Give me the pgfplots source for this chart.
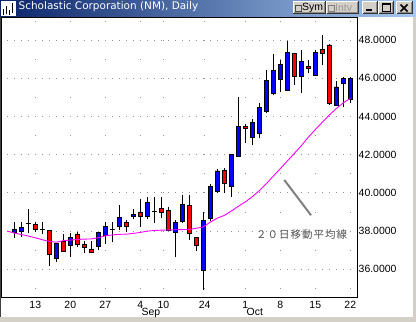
\documentclass[border=0pt]{standalone}
\usepackage{pgfplots}
\pgfplotsset{compat=1.18}
\usepackage{pgfplotstable}
\usepackage{fontspec}
\setmainfont{Liberation Sans}
\newfontfamily\titlefont{DejaVu Sans}
\newfontfamily\cjk[LetterSpace=10]{Noto Sans CJK JP}
\definecolor{wingray}{RGB}{212,208,200}
\definecolor{tbdark}{RGB}{10,36,106}
\definecolor{tblight}{RGB}{166,202,240}
\definecolor{cblue}{RGB}{0,0,255}
\definecolor{cred}{RGB}{255,0,0}
\definecolor{macol}{RGB}{255,0,255}
\definecolor{gridc}{RGB}{150,150,150}
\definecolor{annot}{RGB}{80,80,80}

\pgfplotstableread{
i O H L C
0 37.95 38.46 37.65 38.09
1 37.97 38.48 37.71 38.21
2 38.39 39.14 37.88 38.39
3 38.37 38.48 37.97 38.09
4 38.09 38.48 37.83 38.09
5 38.01 38.06 36.19 36.77
6 36.56 37.36 36.40 37.33
7 37.46 37.85 36.90 36.92
8 37.24 37.90 36.66 37.67
9 37.85 37.97 37.19 37.31
10 37.31 37.48 36.84 37.13
11 37.06 37.48 36.89 36.89
12 37.20 37.97 37.01 37.94
13 37.78 38.46 37.31 38.25
14 38.08 38.48 37.41 38.08
15 38.25 39.37 38.08 38.72
16 38.46 38.58 37.97 38.25
17 38.77 39.16 38.62 38.89
18 38.98 39.68 38.23 38.77
19 38.79 39.77 38.62 39.51
20 39.02 39.77 38.41 39.02
21 39.19 39.77 38.67 38.98
22 39.09 39.25 38.00 38.04
23 37.94 38.58 36.66 38.47
24 38.50 39.88 38.45 39.40
25 39.36 39.88 37.55 37.88
26 37.67 37.67 36.97 37.25
27 35.94 39.01 34.92 38.57
28 38.67 40.47 38.55 40.33
29 40.07 41.24 40.00 41.15
30 41.20 41.29 39.98 40.50
31 40.33 41.99 39.80 41.99
32 41.93 45.04 41.86 43.50
33 43.47 43.61 42.63 43.37
34 42.91 43.86 42.51 43.71
35 43.12 44.69 42.86 44.48
36 44.29 46.44 44.21 45.89
37 45.19 47.28 45.13 46.43
38 45.93 46.97 45.30 46.75
39 45.36 47.98 45.36 47.36
40 47.29 47.29 45.67 46.09
41 46.09 47.49 45.22 46.89
42 46.63 46.96 46.26 46.51
43 46.16 47.49 46.10 47.36
44 47.49 48.27 46.68 47.31
45 47.75 47.80 44.59 44.71
46 44.59 45.86 44.55 45.55
47 45.74 46.05 44.48 46.00
48 44.90 46.09 44.73 46.00
}\candles

\pgfplotstableread{
i M
-1 38.00
0 37.90
1 37.82
2 37.74
3 37.65
4 37.55
5 37.46
6 37.42
7 37.50
8 37.53
9 37.56
10 37.58
11 37.59
12 37.65
13 37.75
14 37.80
15 37.83
16 37.84
17 37.88
18 37.93
19 38.00
20 38.03
21 38.05
22 38.06
23 38.07
24 38.08
25 38.09
26 38.15
27 38.22
28 38.47
29 38.68
30 38.82
31 39.05
32 39.30
33 39.53
34 39.80
35 40.12
36 40.48
37 40.88
38 41.27
39 41.67
40 42.07
41 42.47
42 42.92
43 43.32
44 43.70
45 44.08
46 44.42
47 44.72
48 44.95
}\mavg

\begin{document}
\begin{tikzpicture}[x=1bp,y=1bp]
% window background
\fill[wingray] (0,0) rectangle (416,322);
\fill[white] (0,5) rectangle (413,305);
\fill[black!75] (0,5) rectangle (1,305);
% title bar
\shade[left color=tbdark, right color=tblight] (0,305) rectangle (416,322);
% icon
\fill[white] (1,306) rectangle (16,321);
\draw[black, line width=1.2bp] (3.5,307) -- (3.5,313) (6.5,308) -- (6.5,316) (9.5,307) -- (9.5,312) (12.5,309) -- (12.5,319);
\node[anchor=west, inner sep=0pt, text=white] at (18.5,315.3) {\titlefont\fontsize{10.5}{12}\selectfont Scholastic Corporation (NM), Daily};
% buttons
\newcommand{\winbtn}[4]{%
  \fill[wingray] (#1,#2) rectangle (#3,#4);
  \draw[white, line width=1bp] (#1+0.5,#2+0.5) -- (#1+0.5,#4-0.5) -- (#3-0.5,#4-0.5);
  \draw[black!80, line width=1bp] (#1+0.5,#2+0.5) -- (#3-0.5,#2+0.5) -- (#3-0.5,#4-0.5);
  \draw[black!45, line width=1bp] (#1+1.5,#2+1.5) -- (#3-1.5,#2+1.5) -- (#3-1.5,#4-1.5);
}
\winbtn{292.7}{308}{325.5}{321}
\winbtn{326}{308}{359}{321}
\winbtn{362}{307.7}{378}{321}
\winbtn{378}{307.7}{394}{321}
\winbtn{396}{307.7}{412.5}{321}
\draw[black!70, line width=0.8bp] (295.5,310.5) rectangle (301.5,316.5);
\node[anchor=west, inner sep=0pt] at (302,314.3) {\fontsize{10.5}{12}\selectfont Sym};
\draw[black!50, line width=0.8bp] (328.5,310.5) rectangle (334.5,316.5);
\node[anchor=west, inner sep=0pt, text=black!40] at (335,314.3) {\fontsize{10.5}{12}\selectfont Intv};
\fill[black] (366,310.5) rectangle (372,312.5);
\draw[black, line width=1bp] (382.5,310.5) rectangle (390.5,318);
\fill[black] (382,317) rectangle (391,318.5);
\draw[black, line width=1.6bp] (400.5,310.5) -- (407.5,317.5) (400.5,317.5) -- (407.5,310.5);

\begin{axis}[
  at={(1bp,24.7bp)}, anchor=south west,
  scale only axis, width=356.3bp, height=279.3bp,
  xmin=-1.9, xmax=49, ymin=34.532, ymax=49.163,
  axis line style={black, line width=1bp},
  tick style={draw=none},
  major tick length=0pt,
  xtick={3,8,13,18,21.3,27.2,33,38,43,48},
  xticklabels={13,20,27,4,10,24,1,8,15,22},
  ytick={36,38,40,42,44,46,48},
  yticklabels={36.0000,38.0000,40.0000,42.0000,44.0000,46.0000,48.0000},
  yticklabel pos=right,
  ticklabel style={font=\fontsize{10.5}{12}\selectfont, inner sep=0pt},
  xticklabel style={anchor=north, yshift=-3.4bp},
  yticklabel style={anchor=west, xshift=1.2bp},
  xmajorgrids, ymajorgrids,
  x grid style={gridc, line width=1bp, dash pattern=on 1bp off 18.09bp, dash phase=10.66bp},
  y grid style={gridc, line width=1bp, dash pattern=on 1bp off 6bp, dash phase=1.2bp},
  extra x ticks={18,33},
  extra x tick labels={},
  extra x tick style={xmajorgrids, major grid style={gridc, line width=1bp, dash pattern=on 1bp off 2bp}},
  clip=true,
]
% wicks
\addplot[draw=none, mark=none, forget plot,
  error bars/.cd, y dir=plus, y explicit, error mark=none,
  error bar style={draw=black, solid, line width=1bp}]
  table[x=i, y=L, y error expr=\thisrow{H}-\thisrow{L}] {\candles};
% bodies
\addplot[stack plots=y, ybar, bar shift=0pt, bar width=4.6bp, draw=none, fill=none, forget plot]
  table[x=i, y expr={min(\thisrow{O},\thisrow{C})}] {\candles};
\addplot[stack plots=y, ybar, bar shift=0pt, bar width=4.6bp, draw=black, line width=0.9bp, fill=cblue, forget plot]
  table[x=i, y expr={max(\thisrow{C}-\thisrow{O},0)}] {\candles};
\addplot[stack plots=y, ybar, bar shift=0pt, bar width=4.6bp, draw=black, line width=0.9bp, fill=cred, forget plot]
  table[x=i, y expr={max(\thisrow{O}-\thisrow{C},0)}] {\candles};
% moving average
\addplot[stack plots=false, macol, line width=0.9bp, mark=none] table[x=i, y=M] {\mavg};
% annotation
\draw[black!50, line width=2bp] (axis cs:38.57,40.68) -- (axis cs:42.39,38.83);
\node[text=annot, inner sep=0pt] at (axis cs:41.03,37.80) {\cjk\fontsize{10.5}{12}\selectfont ２０日移動平均線};
\end{axis}
% month labels
\node[anchor=north west, inner sep=0pt] at (141.5,14.3) {\fontsize{10.5}{12}\selectfont Sep};
\node[anchor=north west, inner sep=0pt] at (246.5,14.3) {\fontsize{10.5}{12}\selectfont Oct};
\end{tikzpicture}
\end{document}
